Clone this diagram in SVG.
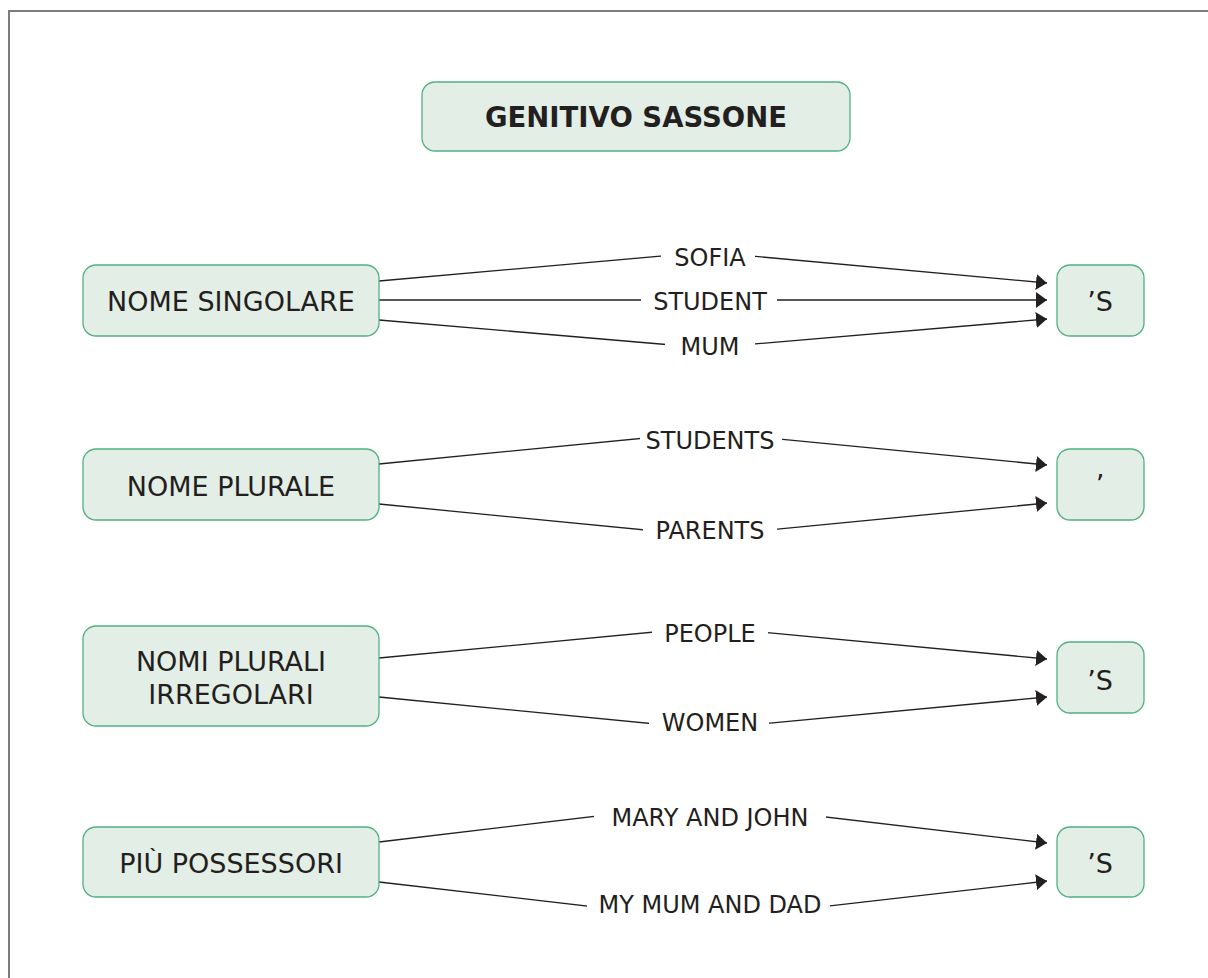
<svg xmlns="http://www.w3.org/2000/svg" width="1208" height="978" viewBox="0 0 1208 978">
  <defs>
    <marker id="arrow" markerUnits="userSpaceOnUse" markerWidth="12" markerHeight="16" refX="11" refY="8" orient="auto">
      <path d="M0,0 L11,8 L0,16 Z" fill="#231f20"/>
    </marker>
    <style>
      .box { fill: #e3eee6; stroke: #52b083; stroke-width: 1.3; }
      .t { font-family: "DejaVu Sans", Verdana, sans-serif; fill: #231f20; text-anchor: middle; }
      .node { font-size: 27px; }
      .title { font-size: 27.5px; font-weight: bold; }
      .lbl { font-size: 24px; }
      .edge { fill: none; stroke: #231f20; stroke-width: 1.3; marker-end: url(#arrow); }
      .gap { fill: #ffffff; }
    </style>
  </defs>

  <rect x="0" y="0" width="1208" height="978" fill="#ffffff"/>
  <!-- page frame -->
  <rect x="9" y="11" width="1300" height="1100" fill="none" stroke="#7d7d7d" stroke-width="2"/>

  <!-- connectors -->
  <g id="connectors">
    <polyline class="edge" points="379,281 707,252 1047,283"/>
    <line class="edge" x1="379" y1="300" x2="1047" y2="300"/>
    <polyline class="edge" points="379,320 707,348 1047,319"/>

    <polyline class="edge" points="379,464 707,432 1047,465"/>
    <polyline class="edge" points="379,504 707,536 1047,503"/>

    <polyline class="edge" points="379,658 707,627 1047,659"/>
    <polyline class="edge" points="379,697 707,729 1047,697"/>

    <polyline class="edge" points="379,842 707,803 1047,843"/>
    <polyline class="edge" points="379,882 707,920 1047,881"/>

    <!-- edge labels -->
    <g id="edge-labels">
      <rect class="gap" x="661" y="240" width="94" height="32"/>
      <text class="t lbl" x="710" y="266">SOFIA</text>
      <rect class="gap" x="641" y="287" width="136" height="28"/>
      <text class="t lbl" x="710" y="309.5">STUDENT</text>
      <rect class="gap" x="665" y="332" width="90" height="32"/>
      <text class="t lbl" x="710" y="354.5">MUM</text>

      <rect class="gap" x="640" y="424" width="142" height="32"/>
      <text class="t lbl" x="710" y="448.5">STUDENTS</text>
      <rect class="gap" x="643" y="514" width="134" height="32"/>
      <text class="t lbl" x="710" y="538.5">PARENTS</text>

      <rect class="gap" x="652" y="617" width="116" height="32"/>
      <text class="t lbl" x="710" y="641.5">PEOPLE</text>
      <rect class="gap" x="649" y="706" width="120" height="32"/>
      <text class="t lbl" x="710" y="730.5">WOMEN</text>

      <rect class="gap" x="594" y="798" width="232" height="36"/>
      <text class="t lbl" x="710" y="826">MARY AND JOHN</text>
      <rect class="gap" x="587" y="889" width="243" height="36"/>
      <text class="t lbl" x="710" y="913">MY MUM AND DAD</text>
    </g>
  </g>

  <!-- title -->
  <g id="title">
    <rect class="box" x="422" y="82" width="428" height="69" rx="13" stroke="#3a9e6e"/>
    <text class="t title" x="636" y="127">GENITIVO SASSONE</text>
  </g>

  <!-- source nodes -->
  <g id="nome-singolare">
    <rect class="box" x="83" y="265" width="296" height="71" rx="13"/>
    <text class="t node" x="231" y="311">NOME SINGOLARE</text>
  </g>
  <g id="nome-plurale">
    <rect class="box" x="83" y="449" width="296" height="71" rx="13"/>
    <text class="t node" x="231" y="495.5">NOME PLURALE</text>
  </g>
  <g id="nomi-plurali-irregolari">
    <rect class="box" x="83" y="626" width="296" height="100" rx="13"/>
    <text class="t node" x="231" y="670.5">NOMI PLURALI</text>
    <text class="t node" x="231" y="703.5">IRREGOLARI</text>
  </g>
  <g id="piu-possessori">
    <rect class="box" x="83" y="827" width="296" height="70" rx="13"/>
    <text class="t node" x="231" y="873">PIÙ POSSESSORI</text>
  </g>

  <!-- target nodes -->
  <g id="suffix-s-1">
    <rect class="box" x="1057" y="265" width="87" height="71" rx="13"/>
    <text class="t node" x="1100" y="311">’S</text>
  </g>
  <g id="suffix-apostrophe">
    <rect class="box" x="1057" y="449" width="87" height="71" rx="13"/>
    <text class="t node" x="1100" y="494">’</text>
  </g>
  <g id="suffix-s-2">
    <rect class="box" x="1057" y="642" width="87" height="71" rx="13"/>
    <text class="t node" x="1100" y="690">’S</text>
  </g>
  <g id="suffix-s-3">
    <rect class="box" x="1057" y="827" width="87" height="70" rx="13"/>
    <text class="t node" x="1100" y="873">’S</text>
  </g>
</svg>
